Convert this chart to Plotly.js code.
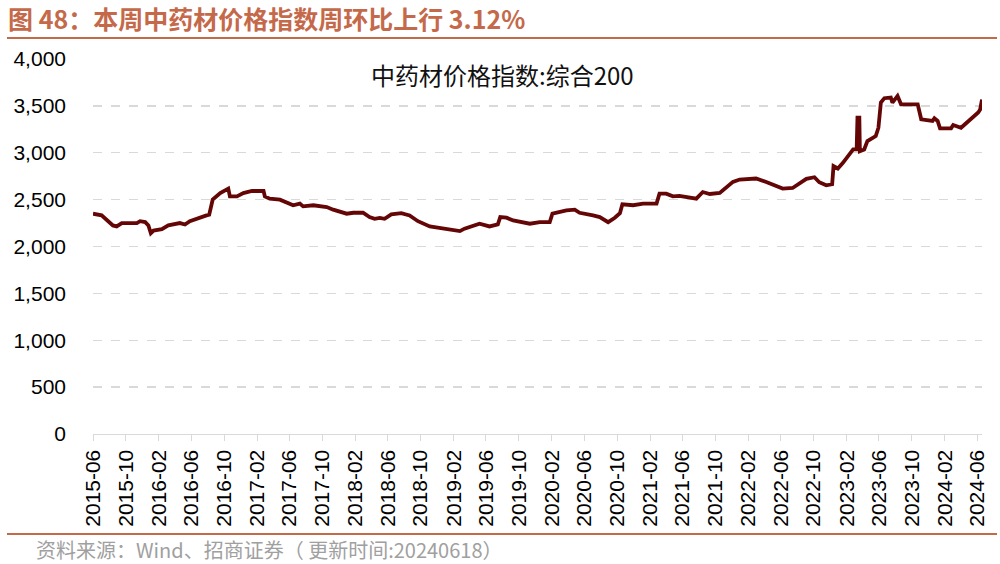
<!DOCTYPE html>
<html>
<head>
<meta charset="utf-8">
<script src="https://cdn.plot.ly/plotly-3.0.1.min.js"></script>
<style>
    html, body { margin: 0; padding: 0; background: #fff; }
    #chart { width: 1000px; height: 564px; }
</style>
</head>
<body>
<div id="chart"></div>
<script>
// 中药材价格指数:综合200
const dates = [
    "2015-06-01", "2015-07-03", "2015-08-14", "2015-08-28", "2015-09-16", "2015-11-11",
    "2015-11-23", "2015-12-12", "2015-12-24", "2016-01-02", "2016-01-12", "2016-02-12",
    "2016-03-07", "2016-04-19", "2016-05-08", "2016-05-26", "2016-07-27", "2016-08-06",
    "2016-08-19", "2016-09-16", "2016-10-16", "2016-10-22", "2016-11-17", "2016-12-11",
    "2017-01-12", "2017-02-24", "2017-03-01", "2017-03-19", "2017-04-26", "2017-06-14",
    "2017-07-09", "2017-07-21", "2017-08-28", "2017-10-17", "2017-11-10", "2017-12-30",
    "2018-01-24", "2018-03-01", "2018-03-25", "2018-04-13", "2018-05-02", "2018-05-20",
    "2018-06-14", "2018-07-21", "2018-08-21", "2018-09-21", "2018-11-04", "2018-12-05",
    "2019-01-18", "2019-02-24", "2019-03-13", "2019-05-08", "2019-06-14", "2019-07-15",
    "2019-07-24", "2019-08-16", "2019-09-10", "2019-11-11", "2019-12-18", "2020-01-24",
    "2020-02-03", "2020-03-26", "2020-04-26", "2020-05-14", "2020-07-03", "2020-07-28",
    "2020-08-28", "2020-09-22", "2020-10-11", "2020-10-20", "2020-11-29", "2021-01-05",
    "2021-02-24", "2021-03-07", "2021-04-01", "2021-04-26", "2021-05-20", "2021-07-22",
    "2021-08-15", "2021-09-10", "2021-10-17", "2021-12-05", "2021-12-30", "2022-03-01",
    "2022-04-08", "2022-06-08", "2022-07-15", "2022-09-04", "2022-10-04", "2022-10-22",
    "2022-11-17", "2022-12-09", "2022-12-14", "2022-12-30", "2023-01-18", "2023-02-12",
    "2023-02-25", "2023-03-10", "2023-03-13", "2023-03-20", "2023-03-22", "2023-04-07",
    "2023-04-19", "2023-05-20", "2023-05-30", "2023-06-08", "2023-06-21", "2023-07-15",
    "2023-07-21", "2023-08-09", "2023-08-22", "2023-10-23", "2023-11-05", "2023-12-17",
    "2023-12-24", "2024-01-05", "2024-01-14", "2024-02-24", "2024-03-03", "2024-04-01",
    "2024-05-02", "2024-05-27", "2024-06-04", "2024-06-11", "2024-06-18"
];
const index200 = [
    2350, 2332, 2225, 2214, 2250, 2250,
    2270, 2260, 2225, 2142, 2170, 2185,
    2225, 2250, 2235, 2270, 2332, 2340,
    2500, 2570, 2617, 2535, 2535, 2570,
    2592, 2592, 2535, 2510, 2500, 2440,
    2457, 2428, 2440, 2421, 2393, 2350,
    2360, 2360, 2314, 2296, 2305, 2296,
    2342, 2356, 2332, 2270, 2214, 2200,
    2178, 2164, 2190, 2243, 2214, 2235,
    2314, 2307, 2278, 2243, 2260, 2260,
    2350, 2385, 2393, 2360, 2332, 2314,
    2260, 2307, 2356, 2450, 2440, 2457,
    2457, 2564, 2564, 2535, 2540, 2510,
    2581, 2560, 2571, 2689, 2714, 2725,
    2689, 2618, 2624, 2721, 2739, 2685,
    2653, 2664, 2857, 2832, 2892, 2982,
    3035, 3035, 3374, 3374, 3017, 3035,
    3124, 3178, 3267, 3535, 3582, 3589,
    3535, 3606, 3517, 3517, 3357, 3339,
    3368, 3339, 3260, 3260, 3296, 3267,
    3346, 3403, 3430, 3460, 3568
];

// x ticks every 4 months
const tickDates = [
    "2015-06-01", "2015-10-01", "2016-02-01", "2016-06-01", "2016-10-01", "2017-02-01",
    "2017-06-01", "2017-10-01", "2018-02-01", "2018-06-01", "2018-10-01", "2019-02-01",
    "2019-06-01", "2019-10-01", "2020-02-01", "2020-06-01", "2020-10-01", "2021-02-01",
    "2021-06-01", "2021-10-01", "2022-02-01", "2022-06-01", "2022-10-01", "2023-02-01",
    "2023-06-01", "2023-10-01", "2024-02-01", "2024-06-01"
];
const tickLabels = tickDates.map(d => d.slice(0, 7));

const accent = "#C4694A";

Plotly.newPlot("chart", [{
    x: dates,
    y: index200,
    type: "scatter",
    mode: "lines",
    name: "中药材价格指数:综合200",
    line: { color: "#650606", width: 3.8 }
}], {
    width: 1000,
    height: 564,
    margin: { l: 93, r: 18, t: 59, b: 130 },
    paper_bgcolor: "#fff",
    plot_bgcolor: "#fff",
    showlegend: false,
    font: { family: "Liberation Sans, Arial, sans-serif", color: "#000" },
    title: {
        text: "<b>图 48：本周中药材价格指数周环比上行 3.12%</b>",
        font: { family: "Noto Sans CJK SC, Liberation Sans, sans-serif", size: 25, color: accent },
        xref: "container", yref: "container",
        x: 0.008, xanchor: "left",
        y: 1 - 20 / 564, yanchor: "middle"
    },
    xaxis: {
        type: "date",
        range: ["2015-06-01", "2024-06-18"],
        tickvals: tickDates,
        ticktext: tickLabels,
        tickangle: -90,
        tickfont: { size: 21, family: "Liberation Sans, Arial, sans-serif", color: "#000" },
        showgrid: false,
        showline: true,
        linecolor: "#D9D9D9",
        linewidth: 1.3,
        ticks: "outside",
        ticklen: 6,
        tickcolor: "#D9D9D9",
        zeroline: false
    },
    yaxis: {
        range: [0, 4000],
        dtick: 500,
        tickformat: ",d",
        tickfont: { size: 21, family: "Liberation Sans, Arial, sans-serif", color: "#000" },
        gridcolor: "#D9D9D9",
        griddash: "dash",
        gridwidth: 1.3,
        zeroline: false,
        showline: false,
        ticks: "",
        ticklabelstandoff: 26
    },
    annotations: [
        {
            text: "中药材价格指数:综合200",
            xref: "paper", yref: "paper",
            x: (502 - 93) / 889, y: (434 - 74) / 375,
            xanchor: "center", yanchor: "middle",
            showarrow: false,
            font: { family: "Noto Sans CJK SC, sans-serif", size: 24, color: "#111" }
        },
        {
            text: "资料来源：Wind、招商证券（ 更新时间:20240618）",
            xref: "paper", yref: "paper",
            x: (34 - 93) / 889, y: (434 - 549) / 375,
            xanchor: "left", yanchor: "middle",
            showarrow: false,
            font: { family: "Noto Sans CJK SC, Liberation Sans, sans-serif", size: 20, color: "#A0A0A0" }
        }
    ],
    shapes: [
        {
            type: "line", xref: "paper", yref: "paper",
            x0: (7 - 93) / 889, x1: (997 - 93) / 889,
            y0: (434 - 38) / 375, y1: (434 - 38) / 375,
            line: { color: accent, width: 2 }
        },
        {
            type: "line", xref: "paper", yref: "paper",
            x0: (7 - 93) / 889, x1: (997 - 93) / 889,
            y0: (434 - 534) / 375, y1: (434 - 534) / 375,
            line: { color: accent, width: 2 }
        }
    ]
}, { displayModeBar: false, staticPlot: true });
</script>
</body>
</html>
